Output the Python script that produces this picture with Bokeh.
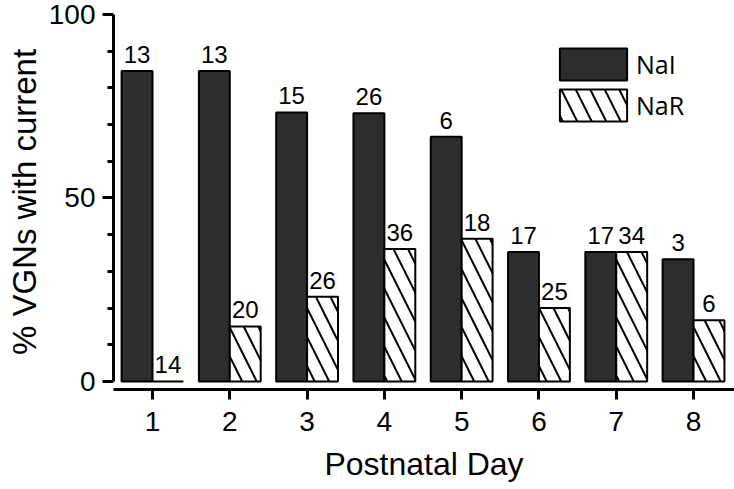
from bokeh.plotting import figure
from bokeh.models import ColumnDataSource, Range1d, LinearAxis, FixedTicker, Legend, LegendItem
from bokeh.transform import dodge
from bokeh.core.properties import value
from bokeh.embed import file_html
from bokeh.resources import INLINE

# ---- data ----
days = [1, 2, 3, 4, 5, 6, 7, 8]
nai_pct = [84.6, 84.6, 73.3, 73.1, 66.7, 35.3, 35.3, 33.3]
nar_pct = [0.0, 15.0, 23.1, 36.1, 38.9, 20.0, 35.3, 16.7]
nai_n = [13, 13, 15, 26, 6, 17, 17, 3]
nar_n = [14, 20, 26, 36, 18, 25, 34, 6]
series_names = ["NaI", "NaR"]
y_ticks = [0, 50, 100]
y_minor_ticks = [10, 20, 30, 40, 60, 70, 80, 90]
x_title = "Postnatal Day"
y_title = "% VGNs with current"

src = ColumnDataSource(dict(
    day=days, nai=nai_pct, nar=nar_pct,
    nai_lbl=[str(v) for v in nai_n], nar_lbl=[str(v) for v in nar_n],
))

FONT = "Liberation Sans"

p = figure(width=734, height=489, output_backend="svg", toolbar_location=None,
           x_range=Range1d(0.4954, 8.530), y_range=Range1d(-2.2, 100),
           x_axis_location=None, y_axis_location=None,
           min_border_left=113, min_border_right=0, min_border_top=14, min_border_bottom=100)
p.grid.visible = False
p.outline_line_color = None
p.background_fill_color = "white"
p.border_fill_color = "white"

# y axis
yaxis = LinearAxis(bounds=(0, 100),
                   ticker=FixedTicker(ticks=y_ticks, minor_ticks=y_minor_ticks),
                   axis_label=y_title)
# x axis
xaxis = LinearAxis(ticker=FixedTicker(ticks=days, minor_ticks=[]), axis_label=x_title)

for ax in (yaxis, xaxis):
    ax.axis_line_width = 3
    ax.axis_line_color = "black"
    ax.major_tick_line_width = 3
    ax.major_tick_line_color = "black"
    ax.minor_tick_line_width = 3
    ax.minor_tick_line_color = "black"
    ax.major_tick_in = 0
    ax.minor_tick_in = 0
    ax.major_label_text_font = FONT
    ax.major_label_text_font_size = "28px"
    ax.major_label_text_color = "black"
    ax.axis_label_text_font = FONT
    ax.axis_label_text_font_style = "normal"
    ax.axis_label_text_color = "black"

yaxis.major_tick_out = 11
yaxis.minor_tick_out = 6
yaxis.major_label_standoff = 7
yaxis.axis_label_standoff = 3
yaxis.axis_label_text_font_size = "33px"
xaxis.major_tick_out = 10
xaxis.minor_tick_out = 0
xaxis.major_label_standoff = 12
xaxis.axis_label_standoff = 12
xaxis.axis_label_text_font_size = "32px"

p.add_layout(yaxis, "left")
p.add_layout(xaxis, "below")

r1 = p.vbar(x=dodge("day", -0.2, range=p.x_range), top="nai", bottom=0, width=0.4,
            source=src, fill_color="#2d2d2d", line_color="black", line_width=2)
r2 = p.vbar(x=dodge("day", 0.2, range=p.x_range), top="nar", bottom=0, width=0.4,
            source=src, fill_color="white", line_color="black", line_width=2,
            hatch_pattern="\\", hatch_scale=29, hatch_weight=2, hatch_color="black")

text_kw = dict(source=src, text_align="center", text_baseline="bottom", y_offset=-8,
               text_font=value(FONT), text_font_size=value("24px"), text_color="black")
p.text(x=dodge("day", -0.2, range=p.x_range), y="nai", text="nai_lbl", **text_kw)
p.text(x=dodge("day", 0.2, range=p.x_range), y="nar", text="nar_lbl", **text_kw)

legend = Legend(items=[LegendItem(label=series_names[0], renderers=[r1]),
                       LegendItem(label=series_names[1], renderers=[r2])],
                location=(438, 264), glyph_width=84, glyph_height=40,
                label_standoff=1, spacing=1, padding=0, margin=0,
                border_line_color=None, background_fill_alpha=0,
                label_text_font="Open Sans", label_text_font_size="25px",
                label_text_color="black", label_height=40)
p.add_layout(legend)

open("out.html", "w").write(file_html(p, INLINE))
